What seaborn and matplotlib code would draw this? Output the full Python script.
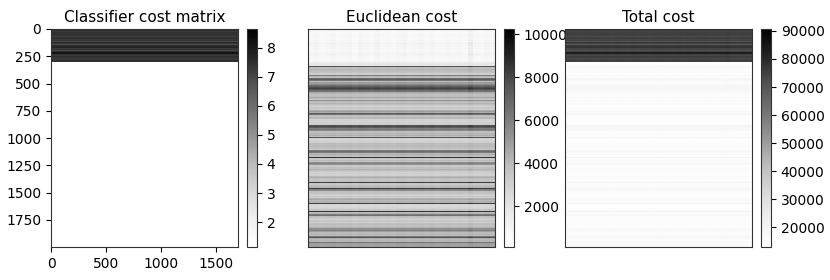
import numpy as np
import matplotlib
matplotlib.use('Agg')
import matplotlib.pyplot as plt
import seaborn as sns

# classifier cost per row (top block, 10 units per row), rest of matrix is flat
clf_top = [7.4, 7.5, 7.3, 7.4, 7.5, 7.4, 7.2, 7.4, 7.5, 7.3,
           7.4, 6.9, 7.7, 7.3, 6.9, 7.5, 7.7, 7.3, 7.4, 7.0,
           7.5, 8.2, 8.1, 7.4, 7.3, 7.5, 7.4, 7.3, 7.5, 7.4]
clf_rest = 1.14

# euclidean cost, light block at the top
euc_top = [650, 600, 800, 720, 560, 850, 680, 800, 620, 740,
           980, 680, 1050, 1180, 920, 1100, 800, 980, 680, 860,
           740, 1050, 920, 1180, 980, 800, 860, 740, 800, 920]
# rows below the light block, in hundreds
euc_low = [16, 18, 19, 20, 76, 40, 38, 42, 39, 37,
           31, 32, 60, 42, 38, 67, 73, 63, 40, 50,
           55, 67, 71, 78, 82, 76, 67, 63, 46, 42,
           36, 39, 46, 40, 34, 55, 40, 37, 42, 38,
           32, 30, 34, 31, 44, 50, 44, 73, 65, 40,
           36, 42, 39, 30, 28, 32, 29, 34, 75, 80,
           73, 60, 63, 57, 38, 42, 40, 44, 38, 76,
           31, 29, 28, 32, 30, 40, 38, 42, 36, 39,
           34, 61, 67, 63, 40, 44, 38, 86, 36, 34,
           40, 36, 55, 59, 52, 36, 32, 38, 42, 39,
           34, 30, 32, 29, 31, 40, 44, 38, 36, 39,
           82, 36, 34, 38, 40, 42, 82, 61, 55, 38,
           36, 32, 30, 34, 31, 42, 46, 40, 44, 42,
           82, 28, 26, 28, 30, 34, 38, 84, 40, 42,
           61, 65, 38, 32, 30, 34, 36, 31, 38, 40,
           36, 39, 42, 55, 59, 50, 40, 38, 42, 39,
           63, 76, 44, 40, 42, 63, 50, 48, 48, 48]
# change per column (50 units per column)
top_col_scale = [1.0, 1.15, 0.8, 1.0, 1.25, 0.85, 1.0, 1.1, 0.75, 1.2, 1.0, 0.85, 1.3, 0.9, 1.0, 0.8, 1.1,
                 1.2, 0.85, 1.0, 1.25, 0.85, 1.1, 0.8, 1.0, 1.15, 0.9, 1.0, 0.85, 1.7, 1.0, 0.8, 1.15, 1.0]
low_col_scale = [1.0, 1.01, 0.99, 1.0, 1.01, 0.99, 1.0, 1.01, 0.98, 1.01, 1.0, 0.99, 1.01, 0.99, 1.0, 0.98, 1.01,
                 1.01, 0.99, 1.0, 1.01, 0.99, 1.01, 0.98, 1.0, 1.01, 0.99, 1.0, 0.99, 1.05, 1.0, 0.99, 1.01, 1.0]

xtick_vals = [0, 500, 1000, 1500]
ytick_vals = [0, 250, 500, 750, 1000, 1250, 1500, 1750]
clf_cbar_ticks = [2, 3, 4, 5, 6, 7, 8]
euc_cbar_ticks = [2000, 4000, 6000, 8000, 10000]
total_cbar_ticks = [20000, 30000, 40000, 50000, 60000, 70000, 80000, 90000]

clf_rows = np.array(clf_top + [clf_rest] * 170)
clf_cost = np.tile(clf_rows[:, None], (1, 34))
euc_cost = np.vstack([np.outer(euc_top, top_col_scale),
                      np.outer(np.array(euc_low) * 100, low_col_scale)])
total_cost = clf_cost * 10000 + euc_cost

W, H = 830, 280
fig = plt.figure(figsize=(W / 100, H / 100), dpi=100)


def box(x0, x1, y0=29, y1=247):
    return [x0 / W, 1 - y1 / H, (x1 - x0) / W, (y1 - y0) / H]


panels = [('Classifier cost matrix', clf_cost, 51, 1.14, 8.65, clf_cbar_ticks),
          ('Euclidean cost', euc_cost, 308, 100, 10250, euc_cbar_ticks),
          ('Total cost', total_cost, 565, 12900, 90700, total_cbar_ticks)]
for i, (title, mat, left, lo, hi, cticks) in enumerate(panels):
    ax = fig.add_axes(box(left, left + 187))
    cax = fig.add_axes(box(left + 196, left + 206))
    sns.heatmap(mat, ax=ax, cbar_ax=cax, cmap='Greys', vmin=lo, vmax=hi,
                xticklabels=False, yticklabels=False)
    ax.set_title(title, fontsize=11, pad=5)
    for s in ax.spines.values():
        s.set_visible(True)
        s.set_linewidth(0.8)
        s.set_color('#333333')
    if i == 0:
        ax.set_xticks([v / 50 for v in xtick_vals], [str(v) for v in xtick_vals], rotation=0, fontsize=10)
        ax.set_yticks([v / 10 for v in ytick_vals], [str(v) for v in ytick_vals], rotation=0, fontsize=10)
    else:
        ax.set_xticks([])
        ax.set_yticks([])
    cb = ax.collections[0].colorbar
    cb.set_ticks(cticks)
    cb.outline.set_visible(True)
    cb.outline.set_linewidth(0.8)
    cb.outline.set_edgecolor('#333333')
    cb.ax.tick_params(labelsize=10, length=3.5, width=0.8)

fig.savefig('out.png', dpi=100)
